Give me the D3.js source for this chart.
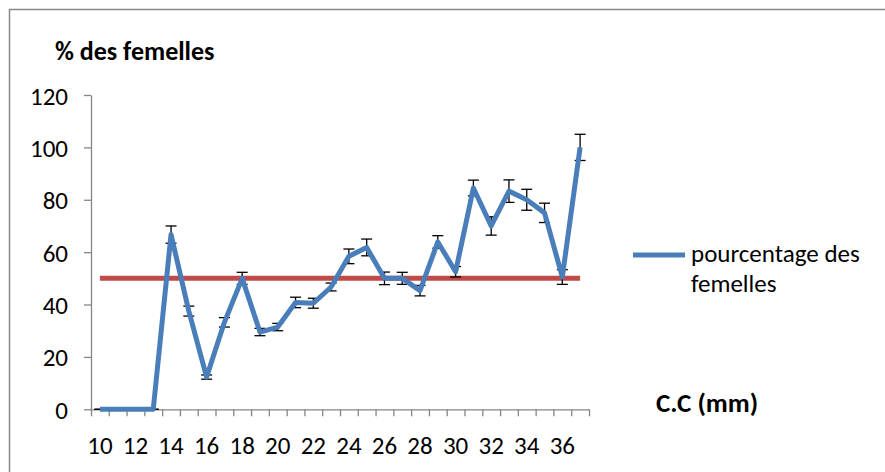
<!DOCTYPE html>
<html>
<head>
<meta charset="utf-8">
<script src="https://cdn.jsdelivr.net/npm/d3@7"></script>
<style>
  html, body { margin: 0; padding: 0; background: #fff; }
  svg { display: block; }
  text { font-family: Carlito, Calibri, Lato, "Open Sans", sans-serif; fill: #000; }
</style>
</head>
<body>
<svg id="chart" width="885" height="472"></svg>
<script>
// Carapace length classes (mm)
const classes = [10, 11, 12, 13, 14, 15, 16, 17, 18, 19, 20, 21, 22, 23,
                 24, 25, 26, 27, 28, 29, 30, 31, 32, 33, 34, 35, 36, 37];
// Percentage of females per class
const pctFemales = [0, 0, 0, 0, 66.7, 37.5, 12.3, 33.2, 50, 29.5, 31.4, 40.8, 40.5, 46.7,
                    58.4, 61.8, 50, 50, 45.3, 63.9, 52.5, 84.5, 70, 83.3, 80, 75, 50.5, 100];
// Error (+/-) per class
const pctError = [0, 0, 0, 0, 3.3, 1.9, 0.8, 1.8, 2.3, 1.4, 1.4, 2, 1.9, 1.5,
                  2.8, 3.2, 2.4, 2.3, 2, 2.4, 2, 3, 3.5, 4.3, 4, 3.7, 2.8, 5];
// Reference level (sex ratio 1:1)
const refLevel = 50;
const yTicks = [0, 20, 40, 60, 80, 100, 120];
const xLabels = [10, 12, 14, 16, 18, 20, 22, 24, 26, 28, 30, 32, 34, 36];
const seriesName = ["pourcentage des", "femelles"];

const svg = d3.select("#chart");
const axisColor = "#868686";
const blue = "#4A7EBB";
const red = "#BE4B48";
const fontStack = "Carlito, Calibri, Lato, sans-serif";

// chart frame
svg.append("rect")
  .attr("x", 9.5).attr("y", 9.5)
  .attr("width", 900).attr("height", 500)
  .attr("fill", "none").attr("stroke", "#898989").attr("stroke-width", 1.5);

const x = d3.scaleBand().domain(classes).range([91, 589]).padding(0);
const xEdges = d3.scaleLinear().domain([0, classes.length]).range([91, 589]);
const y = d3.scaleLinear().domain([0, 120]).range([409.3, 95]);
const cx = d => x(d) + x.bandwidth() / 2;

// y axis
const yAxis = svg.append("g")
  .attr("transform", "translate(91,0)")
  .call(d3.axisLeft(y).tickValues(yTicks).tickSize(7).tickPadding(16).tickSizeOuter(0));
yAxis.select(".domain").attr("stroke", axisColor).attr("stroke-width", 1.3);
yAxis.selectAll(".tick line").attr("stroke", axisColor).attr("stroke-width", 1.3);
yAxis.selectAll(".tick text")
  .attr("font-size", 25)
  .style("font-family", fontStack)
  .attr("dy", "0.36em");

// x axis: tick marks on class boundaries
const xAxisTicks = svg.append("g")
  .attr("transform", "translate(0,409.3)")
  .call(d3.axisBottom(xEdges).tickValues(d3.range(0, classes.length + 1))
        .tickSize(7).tickFormat("").tickSizeOuter(0));
xAxisTicks.select(".domain").attr("stroke", axisColor).attr("stroke-width", 1.3);
xAxisTicks.selectAll(".tick line").attr("stroke", axisColor).attr("stroke-width", 1.3);

// x axis: labels at class centres
const xAxisLabels = svg.append("g")
  .attr("transform", "translate(0,409.3)")
  .call(d3.axisBottom(x).tickValues(xLabels).tickSize(0).tickSizeOuter(0));
xAxisLabels.select(".domain").remove();
xAxisLabels.selectAll(".tick text")
  .attr("font-size", 25)
  .style("font-family", fontStack)
  .attr("y", 45).attr("dy", "0");

// reference line at 50 %
svg.append("line")
  .attr("x1", cx(classes[0])).attr("x2", cx(classes[classes.length - 1]))
  .attr("y1", y(refLevel)).attr("y2", y(refLevel))
  .attr("stroke", red).attr("stroke-width", 5);

// error bars
const data = classes.map((c, i) => ({ c, v: pctFemales[i], e: pctError[i] }));
const capHalf = 5.5;
const eb = svg.append("g").attr("stroke", "#000").attr("stroke-width", 1.3);
data.forEach(d => {
  const xc = cx(d.c);
  eb.append("line").attr("x1", xc).attr("x2", xc)
    .attr("y1", y(d.v + d.e)).attr("y2", y(d.v - d.e));
  eb.append("line").attr("x1", xc - capHalf).attr("x2", xc + capHalf)
    .attr("y1", y(d.v + d.e)).attr("y2", y(d.v + d.e));
  eb.append("line").attr("x1", xc - capHalf).attr("x2", xc + capHalf)
    .attr("y1", y(d.v - d.e)).attr("y2", y(d.v - d.e));
});

// percentage of females line
svg.append("path")
  .datum(data)
  .attr("fill", "none")
  .attr("stroke", blue)
  .attr("stroke-width", 5)
  .attr("stroke-linejoin", "round")
  .attr("d", d3.line().x(d => cx(d.c)).y(d => y(d.v)));

// titles
svg.append("text")
  .attr("x", 55).attr("y", 60)
  .attr("font-size", 26).attr("font-weight", "bold")
  .text("% des femelles");
svg.append("text")
  .attr("x", 656).attr("y", 412)
  .attr("font-size", 27).attr("font-weight", "bold")
  .text("C.C (mm)");

// legend
svg.append("line")
  .attr("x1", 633).attr("x2", 685)
  .attr("y1", 255).attr("y2", 255)
  .attr("stroke", blue).attr("stroke-width", 5);
svg.append("text")
  .attr("font-size", 25)
  .selectAll("tspan").data(seriesName).join("tspan")
  .attr("x", 691).attr("y", (d, i) => 261.5 + i * 30.5)
  .text(d => d);
</script>
</body>
</html>
